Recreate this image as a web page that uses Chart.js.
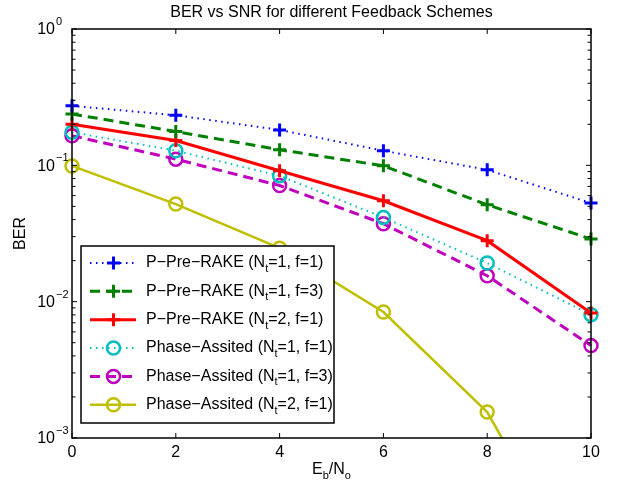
<!DOCTYPE html>
<html>
<head>
<meta charset="utf-8">
<script src="https://cdn.jsdelivr.net/npm/chart.js@4.4.1/dist/chart.umd.min.js"></script>
<style>
  html, body { margin: 0; padding: 0; background: #fff; }
  #wrap { width: 618px; height: 488px; position: relative; }
</style>
</head>
<body>
<div id="wrap"><canvas id="c" width="618" height="488"></canvas></div>
<script>
// ---------- data ----------
const snrValues = [0, 2, 4, 6, 8, 10];
const berPPreRakeNt1F1 = [0.273, 0.233, 0.182, 0.128, 0.0927, 0.0529];
const berPPreRakeNt1F3 = [0.238, 0.177, 0.130, 0.0992, 0.0514, 0.0288];
const berPPreRakeNt2F1 = [0.200, 0.152, 0.0912, 0.0550, 0.0280, 0.00826];
const berPhaseNt1F1 = [0.175, 0.128, 0.0838, 0.0415, 0.0192, 0.00803];
const berPhaseNt1F3 = [0.165, 0.111, 0.0711, 0.0373, 0.0155, 0.00476];
const berPhaseNt2F1 = [0.099, 0.052, 0.0247, 0.0084, 0.00155, 0.00007];
const seriesLabels = [
  'P\u2212Pre\u2212RAKE (N_t=1, f=1)',
  'P\u2212Pre\u2212RAKE (N_t=1, f=3)',
  'P\u2212Pre\u2212RAKE (N_t=2, f=1)',
  'Phase\u2212Assited (N_t=1, f=1)',
  'Phase\u2212Assited (N_t=1, f=3)',
  'Phase\u2212Assited (N_t=2, f=1)'
];
const xTickValues = [0, 2, 4, 6, 8, 10];
const yTickExponents = [0, -1, -2, -3];
const chartTitle = 'BER vs SNR for different Feedback Schemes';
const yAxisTitle = 'BER';
const xAxisTitle = 'E_b/N_o';

// ---------- styles ----------
const FONT = "'Liberation Sans', Arial, Helvetica, sans-serif";
const FS = 16, SUB = 11;
const styles = [
  { color: '#0000FF', dash: [1.5, 4.5], width: 2, point: 'cross', r: 6.5, pbw: 3 },
  { color: '#008000', dash: [10, 6], width: 3, point: 'cross', r: 6.5, pbw: 3 },
  { color: '#FF0000', dash: [], width: 3, point: 'cross', r: 6.5, pbw: 3 },
  { color: '#00BFBF', dash: [1.5, 4.5], width: 2, point: 'circle', r: 6.5, pbw: 2.5 },
  { color: '#BF00BF', dash: [10, 6], width: 3, point: 'circle', r: 6.5, pbw: 2.5 },
  { color: '#BFBF00', dash: [], width: 2.5, point: 'circle', r: 6.5, pbw: 2.5 }
];
const seriesValues = [berPPreRakeNt1F1, berPPreRakeNt1F3, berPPreRakeNt2F1,
                      berPhaseNt1F1, berPhaseNt1F3, berPhaseNt2F1];

const datasets = seriesValues.map((vals, i) => ({
  label: seriesLabels[i],
  data: snrValues.map((x, j) => ({ x: x, y: vals[j] })),
  borderColor: styles[i].color,
  backgroundColor: 'rgba(0,0,0,0)',
  borderWidth: styles[i].width,
  borderDash: styles[i].dash,
  borderCapStyle: 'butt',
  pointStyle: styles[i].point,
  pointRadius: styles[i].r,
  pointBorderWidth: styles[i].pbw,
  pointBorderColor: styles[i].color,
  pointBackgroundColor: 'rgba(0,0,0,0)',
  tension: 0,
  fill: false,
  clip: { left: 12, right: 12, top: 12, bottom: 0 }
}));

function drawMarker(ctx, style, x, y) {
  ctx.save();
  ctx.setLineDash([]);
  ctx.strokeStyle = style.color;
  ctx.lineWidth = style.pbw;
  ctx.beginPath();
  if (style.point === 'cross') {
    ctx.moveTo(x - style.r, y); ctx.lineTo(x + style.r, y);
    ctx.moveTo(x, y - style.r); ctx.lineTo(x, y + style.r);
  } else {
    ctx.arc(x, y, style.r, 0, Math.PI * 2);
  }
  ctx.stroke();
  ctx.restore();
}

function measureSubText(ctx, text, size, subSize) {
  let w = 0;
  text.split(/_(.)/).forEach((p, k) => {
    if (!p) return;
    ctx.font = (k % 2 ? subSize : size) + 'px ' + FONT;
    w += ctx.measureText(p).width;
  });
  return w;
}

function drawSubText(ctx, text, x, y, size, subSize) {
  const parts = text.split(/_(.)/);
  let cx = x;
  parts.forEach((p, k) => {
    if (!p) return;
    if (k % 2 === 1) {
      ctx.font = subSize + 'px ' + FONT;
      ctx.fillText(p, cx, y + 6);
    } else {
      ctx.font = size + 'px ' + FONT;
      ctx.fillText(p, cx, y);
    }
    cx += ctx.measureText(p).width;
  });
  return cx - x;
}

const decor = {
  id: 'decor',
  afterDatasetsDraw(chart) {
    const ctx = chart.ctx, a = chart.chartArea;
    const xs = chart.scales.x, ys = chart.scales.y;
    ctx.save();
    ctx.fillStyle = '#000';
    ctx.strokeStyle = '#000';
    ctx.setLineDash([]);

    // axes box
    ctx.lineWidth = 1.5;
    ctx.strokeRect(a.left, a.top, a.right - a.left, a.bottom - a.top);

    // x ticks (inward, both sides) + labels
    ctx.lineWidth = 1;
    ctx.font = FS + 'px ' + FONT;
    ctx.textAlign = 'center';
    ctx.textBaseline = 'middle';
    xTickValues.forEach(v => {
      const px = xs.getPixelForValue(v);
      ctx.beginPath();
      ctx.moveTo(px, a.bottom); ctx.lineTo(px, a.bottom - 5);
      ctx.moveTo(px, a.top); ctx.lineTo(px, a.top + 5);
      ctx.stroke();
      ctx.fillText(String(v), px, a.bottom + 15);
    });

    // y ticks (log) major and minor, both sides
    yTickExponents.forEach(e => {
      const py = ys.getPixelForValue(Math.pow(10, e));
      ctx.beginPath();
      ctx.moveTo(a.left, py); ctx.lineTo(a.left + 5, py);
      ctx.moveTo(a.right, py); ctx.lineTo(a.right - 5, py);
      ctx.stroke();
      if (e < 0) {
        for (let m = 2; m <= 9; m++) {
          const pm = ys.getPixelForValue(m * Math.pow(10, e));
          ctx.beginPath();
          ctx.moveTo(a.left, pm); ctx.lineTo(a.left + 3.5, pm);
          ctx.moveTo(a.right, pm); ctx.lineTo(a.right - 3.5, pm);
          ctx.stroke();
        }
      }
      ctx.font = FS + 'px ' + FONT;
      ctx.textAlign = 'right';
      ctx.textBaseline = 'middle';
      ctx.fillText('10', a.left - 17, py + 1);
      ctx.font = SUB + 'px ' + FONT;
      ctx.textAlign = 'left';
      ctx.fillText(e === 0 ? '0' : '\u2212' + Math.abs(e), a.left - 16, py - 7);
    });

    // title
    ctx.font = FS + 'px ' + FONT;
    ctx.textAlign = 'center';
    ctx.textBaseline = 'middle';
    ctx.fillText(chartTitle, (a.left + a.right) / 2, 13);

    // y axis title
    ctx.save();
    ctx.translate(21, (a.top + a.bottom) / 2);
    ctx.rotate(-Math.PI / 2);
    ctx.font = FS + 'px ' + FONT;
    ctx.textAlign = 'center';
    ctx.textBaseline = 'middle';
    ctx.fillText(yAxisTitle, 0, 0);
    ctx.restore();

    // x axis title
    ctx.textAlign = 'left';
    ctx.textBaseline = 'middle';
    const w = measureSubText(ctx, xAxisTitle, FS, SUB);
    drawSubText(ctx, xAxisTitle, (a.left + a.right) / 2 - w / 2, 470, FS, SUB);

    // legend
    const lx = 81, ly = 246, lw = 253, lh = 177;
    ctx.fillStyle = '#fff';
    ctx.fillRect(lx, ly, lw, lh);
    ctx.lineWidth = 1.5;
    ctx.strokeStyle = '#000';
    ctx.strokeRect(lx, ly, lw, lh);
    seriesLabels.forEach((lab, i) => {
      const y = 263 + i * 28.35;
      const st = styles[i];
      ctx.save();
      ctx.strokeStyle = st.color;
      ctx.lineWidth = st.width;
      ctx.setLineDash(st.dash);
      ctx.lineCap = 'butt';
      ctx.beginPath();
      ctx.moveTo(90, y); ctx.lineTo(136, y);
      ctx.stroke();
      ctx.restore();
      drawMarker(ctx, st, 113.5, y);
      ctx.fillStyle = '#000';
      ctx.textAlign = 'left';
      ctx.textBaseline = 'middle';
      drawSubText(ctx, lab, 146, y, FS, SUB);
    });
    ctx.restore();
  }
};

new Chart(document.getElementById('c'), {
  type: 'line',
  data: { datasets: datasets },
  options: {
    responsive: false,
    animation: false,
    devicePixelRatio: 1,
    layout: { padding: { left: 72, right: 27, top: 29, bottom: 50 } },
    plugins: { legend: { display: false }, title: { display: false }, tooltip: { enabled: false } },
    scales: {
      x: { type: 'linear', min: 0, max: 10, display: false },
      y: { type: 'logarithmic', min: 0.001, max: 1, display: false }
    }
  },
  plugins: [decor]
});
</script>
</body>
</html>
